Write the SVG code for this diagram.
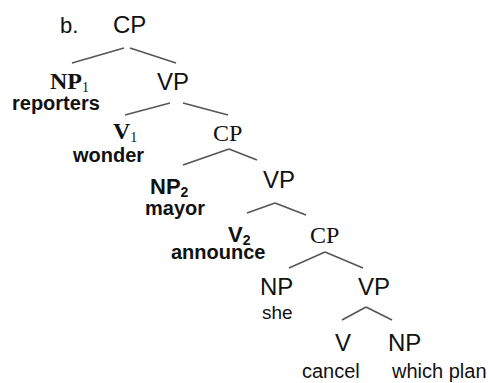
<svg xmlns="http://www.w3.org/2000/svg" width="491" height="383" viewBox="0 0 491 383">
<style>
.ln{stroke:#555;stroke-width:1.6;fill:none}
.s{font-family:"Liberation Sans",Arial,sans-serif;fill:#111}
.b{font-weight:bold}
.t{font-family:"Liberation Serif","Times New Roman",serif;fill:#111}
.lab{font-size:24px}
.w{font-size:20px}
.sub{font-size:14px}
</style>
<rect width="491" height="383" fill="#fff"/>
<g id="connectors">
<line class="ln" x1="72" y1="63" x2="124" y2="48"/>
<line class="ln" x1="130" y1="48" x2="176" y2="63"/>
<line class="ln" x1="125" y1="115" x2="170" y2="103"/>
<line class="ln" x1="183" y1="103" x2="228" y2="115"/>
<line class="ln" x1="183" y1="165" x2="229" y2="149"/>
<line class="ln" x1="229" y1="149" x2="257" y2="160"/>
<line class="ln" x1="247" y1="213" x2="275" y2="203"/>
<line class="ln" x1="275" y1="203" x2="306" y2="215"/>
<line class="ln" x1="289" y1="268" x2="325" y2="252"/>
<line class="ln" x1="325" y1="252" x2="363" y2="268"/>
<line class="ln" x1="342" y1="320" x2="366" y2="307"/>
<line class="ln" x1="366" y1="307" x2="392" y2="320"/>
</g>
<g id="label-b"><text class="s" x="60" y="33" font-size="22">b.</text></g>
<g id="cp1"><text class="s lab" x="113" y="33">CP</text></g>
<g id="np1">
<text class="t b lab" x="50" y="89">NP<tspan class="sub" font-weight="normal" dy="3">1</tspan></text>
<text class="s b w" x="12" y="110">reporters</text>
</g>
<g id="vp1"><text class="s lab" x="157" y="90">VP</text></g>
<g id="v1">
<text class="t b lab" x="113" y="139">V<tspan class="sub" font-weight="normal" dy="3">1</tspan></text>
<text class="s b w" x="73" y="162">wonder</text>
</g>
<g id="cp2"><text class="t lab" x="213" y="141">CP</text></g>
<g id="np2">
<text class="s b" font-size="22" x="150" y="194">NP<tspan class="sub" dy="3">2</tspan></text>
<text class="s b w" x="145" y="215">mayor</text>
</g>
<g id="vp2"><text class="s lab" x="263" y="188">VP</text></g>
<g id="v2">
<text class="s b" font-size="22" x="228" y="242">V<tspan class="sub" dy="3">2</tspan></text>
<text class="s b w" x="171" y="259">announce</text>
</g>
<g id="cp3"><text class="t lab" x="310" y="243">CP</text></g>
<g id="np3">
<text class="s lab" x="260" y="295">NP</text>
<text class="s" font-size="19" x="262" y="319">she</text>
</g>
<g id="vp3"><text class="s lab" x="358" y="295">VP</text></g>
<g id="v3">
<text class="s lab" x="335" y="351">V</text>
<text class="s" font-size="20" x="302" y="378">cancel</text>
</g>
<g id="np4">
<text class="s lab" x="388" y="351">NP</text>
<text class="s" font-size="20" x="392" y="378">which plan</text>
</g>
</svg>
